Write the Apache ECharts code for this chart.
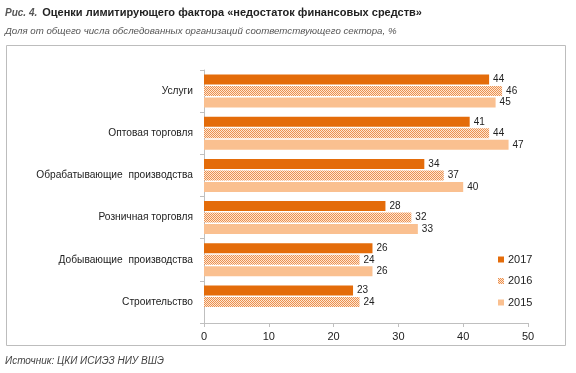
<!DOCTYPE html>
<html><head><meta charset="utf-8">
<script src="https://cdn.jsdelivr.net/npm/echarts@6/dist/echarts.min.js"></script>
<style>html,body{margin:0;padding:0;background:#fff}#c{width:576px;height:373px}</style>
</head><body><div id="c"></div>
<script>
const categories = ['Услуги','Оптовая торговля','Обрабатывающие  производства','Розничная торговля','Добывающие  производства','Строительство'];
const seriesNames = ['2017','2016','2015'];
const v2017 = [44,41,34,28,26,23];
const v2016 = [46,44,37,32,24,24];
const v2015 = [45,47,40,33,26,null];
const xTicks = [0,10,20,30,40,50];

const pc = document.createElement('canvas');
pc.width = 2; pc.height = 2;
const g = pc.getContext('2d');
g.fillStyle = '#FDE6D2'; g.fillRect(0,0,2,2);
g.fillStyle = '#EC904F'; g.fillRect(0,0,1,1); g.fillRect(1,1,1,1);
const pattern = {image: pc, repeat: 'repeat'};

const colors = ['#E46C0A', pattern, '#FAC090'];
const data = [v2017, v2016, v2015];
const font = '"Liberation Sans", Arial, sans-serif';

const chart = echarts.init(document.getElementById('c'), null, {renderer:'canvas'});
chart.setOption({
  animation: false,
  title: {
    left: 0, top: -1,
    text: '{a|Рис. 4.} {b|Оценки лимитирующего фактора «недостаток финансовых средств»}',
    subtext: 'Доля от общего числа обследованных организаций соответствующего сектора, %',
    itemGap: 4,
    textStyle: {rich: {
      a: {fontSize: 10, fontStyle: 'italic', color: '#555', fontFamily: font},
      b: {fontSize: 11, fontWeight: 'bold', color: '#222', fontFamily: font}
    }},
    subtextStyle: {fontSize: 9.7, fontStyle: 'italic', color: '#555', fontFamily: font}
  },
  graphic: [
    {type: 'rect', shape: {x: 6.5, y: 45.5, width: 559, height: 300}, style: {fill: 'none', stroke: '#BDBDBD', lineWidth: 1}, z: -1},
    {type: 'text', left: 5, top: 356, style: {text: 'Источник: ЦКИ ИСИЭЗ НИУ ВШЭ', fontSize: 10, fontStyle: 'italic', fill: '#444', fontFamily: font}}
  ],
  legend: {
    orient: 'vertical', left: 493, top: 249, itemWidth: 6, itemHeight: 6, itemGap: 10.5,
    data: seriesNames, icon: 'rect',
    textStyle: {fontSize: 11, color: '#222', fontFamily: font, padding: [0,0,0,-1]}
  },
  grid: {left: 204, right: 48, top: 70, bottom: 50, containLabel: false},
  xAxis: {
    type: 'value', min: 0, max: 50, interval: 10,
    splitLine: {show: false},
    axisLine: {show: true, lineStyle: {color: '#BFBFBF'}},
    axisTick: {show: true, length: 4, lineStyle: {color: '#BFBFBF'}},
    axisLabel: {fontSize: 11, color: '#222', fontFamily: font, margin: 8,
      formatter: v => xTicks.includes(v) ? String(v) : ''}
  },
  yAxis: {
    type: 'category', data: categories, inverse: true,
    axisLine: {show: true, lineStyle: {color: '#BFBFBF'}},
    axisTick: {show: true, length: 4, lineStyle: {color: '#BFBFBF'}},
    axisLabel: {fontSize: 10.2, color: '#222', fontFamily: font, margin: 11}
  },
  series: seriesNames.map((n, i) => ({
    name: n, type: 'bar', data: data[i], barWidth: 10, barGap: '15%',
    itemStyle: {color: colors[i]},
    label: {show: true, position: 'right', distance: 4, fontSize: 10, color: '#222', fontFamily: font}
  }))
});
</script></body></html>
